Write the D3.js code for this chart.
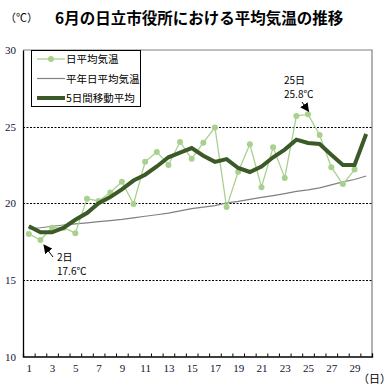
<!DOCTYPE html>
<html>
<head>
<meta charset="utf-8">
<script src="https://cdn.jsdelivr.net/npm/d3@7"></script>
<style>
  body { margin: 0; background: #fff; }
  svg { display: block; }
</style>
</head>
<body>
<script>
// days of June
var days = d3.range(1, 31);
// daily mean temperature (day 1..29)
var daily = [18.0, 17.6, 18.4, 18.4, 18.05, 20.3, 20.15, 20.7, 21.4, 19.95,
             22.7, 23.35, 22.5, 24.0, 22.9, 23.95, 24.95, 19.75, 22.05, 23.85,
             21.05, 23.65, 21.65, 25.7, 25.8, 24.45, 22.35, 21.25, 22.2];
// normal daily mean
var normal = [18.33, 18.4, 18.5, 18.58, 18.65, 18.72, 18.8, 18.87, 18.95, 19.05,
              19.15, 19.25, 19.35, 19.5, 19.65, 19.75, 19.85, 20.02, 20.12, 20.25,
              20.38, 20.5, 20.63, 20.77, 20.87, 21.0, 21.2, 21.4, 21.55, 21.78];
// 5-day moving average
var moving = [18.5, 18.1, 18.1, 18.4, 18.92, 19.36, 20.0, 20.4, 20.9, 21.48,
              21.86, 22.4, 23.0, 23.3, 23.6, 23.1, 22.7, 22.88, 22.3, 22.04,
              22.4, 23.0, 23.5, 24.15, 23.93, 23.87, 23.17, 22.5, 22.5, 24.52];
var yTicks = [10, 15, 20, 25, 30];
var xLabels = d3.range(1, 31, 2);

var width = 390, height = 390;
var plotL = 23, plotR = 372, plotT = 50, plotB = 356.5;

var svg = d3.select("body").append("svg")
    .attr("width", width)
    .attr("height", height);

var x = d3.scaleLinear().domain([0.5, 30.5]).range([plotL, plotR]);
var y = d3.scaleLinear().domain([10, 30]).range([plotB, plotT]);

var jp = "'Noto Sans CJK JP', 'Noto Sans', sans-serif";
var serif = "'Liberation Serif', 'DejaVu Serif', serif";

// title
svg.append("text")
    .attr("x", 55).attr("y", 24)
    .style("font-family", jp).style("font-size", "15.5px").style("font-weight", "bold")
    .text("6月の日立市役所における平均気温の推移");
svg.append("text")
    .attr("x", 5).attr("y", 22)
    .style("font-family", jp).style("font-size", "11px")
    .text("（℃）");

// frame: gray top/right
svg.append("path")
    .attr("d", "M" + plotL + "," + plotT + "H" + plotR + "V" + plotB)
    .attr("fill", "none").attr("stroke", "#808080").attr("stroke-width", 1.2);

// dashed gridlines
svg.selectAll(".grid")
    .data([15, 20, 25])
    .enter().append("line")
    .attr("x1", plotL).attr("x2", plotR)
    .attr("y1", function(d) { return Math.round(y(d)) + 0.5; })
    .attr("y2", function(d) { return Math.round(y(d)) + 0.5; })
    .attr("stroke", "#000").attr("stroke-dasharray", "2,1.5");

// y axis
var yAxis = svg.append("g")
    .attr("transform", "translate(" + plotL + ",0)")
    .call(d3.axisLeft(y).tickValues(yTicks).tickSize(0).tickPadding(7));
yAxis.select(".domain").attr("stroke", "#000").attr("stroke-width", 1.3);
yAxis.selectAll("text")
    .style("font-family", serif).style("font-size", "11px").attr("fill", "#111133");

// x axis: boundary ticks pointing up
var xAxis = svg.append("g")
    .attr("transform", "translate(0," + plotB + ")")
    .call(d3.axisBottom(x).tickValues(d3.range(0.5, 31, 1)).tickSize(-3).tickFormat(""));
xAxis.select(".domain").attr("stroke", "#000").attr("stroke-width", 1.3);
xAxis.selectAll(".tick line").attr("stroke", "#000");

// x labels
var xLab = svg.append("g")
    .attr("transform", "translate(0," + plotB + ")")
    .call(d3.axisBottom(x).tickValues(xLabels).tickSize(0).tickPadding(8).tickFormat(d3.format("d")));
xLab.select(".domain").remove();
xLab.selectAll("text")
    .style("font-family", serif).style("font-size", "11px").attr("fill", "#111133");
svg.append("text")
    .attr("x", 358).attr("y", 383)
    .style("font-family", jp).style("font-size", "11px")
    .text("（日）");

// normal line
var line = d3.line()
    .x(function(d, i) { return x(i + 1); })
    .y(function(d) { return y(d); });

svg.append("path")
    .datum(normal)
    .attr("d", line)
    .attr("fill", "none").attr("stroke", "#808080").attr("stroke-width", 1.2);

// daily line + markers
svg.append("path")
    .datum(daily)
    .attr("d", line)
    .attr("fill", "none").attr("stroke", "#a9d18e").attr("stroke-width", 1.3);
svg.selectAll(".dot")
    .data(daily)
    .enter().append("circle")
    .attr("cx", function(d, i) { return x(i + 1); })
    .attr("cy", function(d) { return y(d); })
    .attr("r", 3)
    .attr("fill", "#a9d18e");

// moving average
svg.append("path")
    .datum(moving)
    .attr("d", line)
    .attr("fill", "none").attr("stroke", "#3b5a27").attr("stroke-width", 4)
    .attr("stroke-linejoin", "miter");

// annotations
var defs = svg.append("defs");
defs.append("marker")
    .attr("id", "arr")
    .attr("viewBox", "0 0 10 10")
    .attr("refX", 9).attr("refY", 5)
    .attr("markerWidth", 9).attr("markerHeight", 9)
    .attr("markerUnits", "userSpaceOnUse")
    .attr("orient", "auto")
    .append("path").attr("d", "M0,0L10,5L0,10z").attr("fill", "#000");

var notes = [
  { day: 25, val: daily[24], tx: 284, ty: 84, ax: 302, ay: 102, dx: 0.5, dy: -3, label: "25日" },
  { day: 2, val: daily[1], tx: 57, ty: 261, ax: 53, ay: 257, dx: 3.5, dy: 5, label: "2日" }
];
notes.forEach(function(n) {
  svg.append("line")
    .attr("x1", n.ax).attr("y1", n.ay)
    .attr("x2", x(n.day) + n.dx)
    .attr("y2", y(n.val) + n.dy)
    .attr("stroke", "#000").attr("stroke-width", 1)
    .attr("marker-end", "url(#arr)");
  svg.append("text")
    .attr("x", n.tx).attr("y", n.ty)
    .style("font-family", jp).style("font-size", "10px")
    .text(n.label);
  svg.append("text")
    .attr("x", n.tx).attr("y", n.ty + 14)
    .style("font-family", jp).style("font-size", "10px")
    .text(n.val.toFixed(1) + "℃");
});

// legend
var lg = svg.append("g");
lg.append("rect")
    .attr("x", 31.5).attr("y", 50.5).attr("width", 109).attr("height", 56)
    .attr("fill", "#fff").attr("stroke", "#000").attr("stroke-width", 1);
var legend = [
  { name: "日平均気温", color: "#a9d18e", w: 1.3, dot: true },
  { name: "平年日平均気温", color: "#808080", w: 1.2, dot: false },
  { name: "5日間移動平均", color: "#3b5a27", w: 4, dot: false }
];
legend.forEach(function(d, i) {
  var ly = 59 + i * 19.5;
  lg.append("line")
    .attr("x1", 37).attr("x2", 65).attr("y1", ly).attr("y2", ly)
    .attr("stroke", d.color).attr("stroke-width", d.w);
  if (d.dot) {
    lg.append("circle").attr("cx", 51).attr("cy", ly).attr("r", 3).attr("fill", d.color);
  }
  lg.append("text")
    .attr("x", 66).attr("y", ly + 4)
    .style("font-family", jp).style("font-size", "10.5px")
    .text(d.name);
});
</script>
</body>
</html>
